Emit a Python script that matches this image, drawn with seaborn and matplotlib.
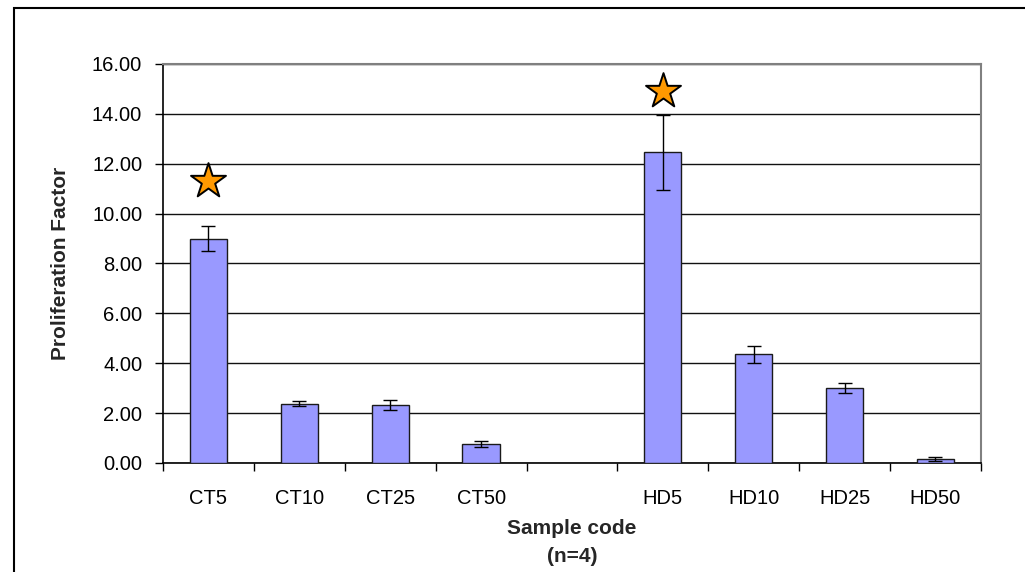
import matplotlib
matplotlib.use("Agg")
import matplotlib.pyplot as plt
import seaborn as sns
import pandas as pd
from matplotlib.patches import Rectangle
from matplotlib.ticker import FixedLocator

categories = ["CT5", "CT10", "CT25", "CT50", " ", "HD5", "HD10", "HD25", "HD50"]
samples = ["CT5", "CT10", "CT25", "CT50", "HD5", "HD10", "HD25", "HD50"]
values = [9.0, 2.37, 2.32, 0.77, 12.45, 4.35, 3.0, 0.17]
errors = [0.5, 0.1, 0.2, 0.13, 1.5, 0.35, 0.2, 0.08]
star_samples = ["CT5", "HD5"]
star_heights = [11.3, 14.9]
y_ticks = [0, 2, 4, 6, 8, 10, 12, 14, 16]

sns.set_theme(style="white")
plt.rcParams["font.family"] = ["Liberation Sans", "DejaVu Sans"]

df = pd.DataFrame({"sample": samples, "value": values, "err": errors})

fig = plt.figure(figsize=(10.25, 5.72), dpi=100)
ax = fig.add_axes([0.159, 0.1906, 0.798, 0.6976])

sns.barplot(data=df, x="sample", y="value", order=categories, color="#9999FF",
            saturation=1, width=0.41, edgecolor="#1a1a1a", linewidth=1.0,
            errorbar=None, ax=ax, zorder=3)

pos = [categories.index(s) for s in samples]
ax.errorbar(pos, values, yerr=errors, fmt="none", ecolor="black",
            elinewidth=1.0, capsize=5, capthick=1.0, zorder=4)

star_pos = [categories.index(s) for s in star_samples]
ax.scatter(star_pos, star_heights, marker="*", s=700, color="#FF9900",
           edgecolor="black", linewidth=1.4, zorder=5)

ax.set_xlim(-0.5, len(categories) - 0.5)
ax.set_ylim(0, 16)
ax.set_yticks(y_ticks)
ax.set_yticklabels([f"{v:.2f}" for v in y_ticks])
ax.yaxis.grid(True, color="#111111", linewidth=1.0)
ax.set_axisbelow(True)

ax.xaxis.set_minor_locator(FixedLocator([i - 0.5 for i in range(len(categories) + 1)]))
ax.tick_params(axis="x", which="major", length=0, pad=19, labelsize=14.5, colors="black")
ax.tick_params(axis="x", which="minor", length=6, width=1.0, color="black", direction="out", bottom=True)
ax.tick_params(axis="y", which="major", length=6, width=1.0, color="black", direction="out",
               pad=9, labelsize=14.5, left=True, labelcolor="black")

for side in ["left", "bottom"]:
    ax.spines[side].set_color("black")
    ax.spines[side].set_linewidth(1.2)
for side in ["top", "right"]:
    ax.spines[side].set_visible(True)
    ax.spines[side].set_color("#808080")
    ax.spines[side].set_linewidth(1.5)

ax.set_xlabel("Sample code\n(n=4)", fontsize=15, fontweight="bold", labelpad=8, linespacing=1.6)
ax.set_ylabel("Proliferation Factor", fontsize=15, fontweight="bold", labelpad=16)

fig.patches.append(Rectangle((14 / 1025, -0.1), 1.2, 1 - 8 / 572 + 0.1, transform=fig.transFigure,
                             fill=False, edgecolor="black", linewidth=1.5, zorder=0))

fig.savefig("out.png", dpi=100)
